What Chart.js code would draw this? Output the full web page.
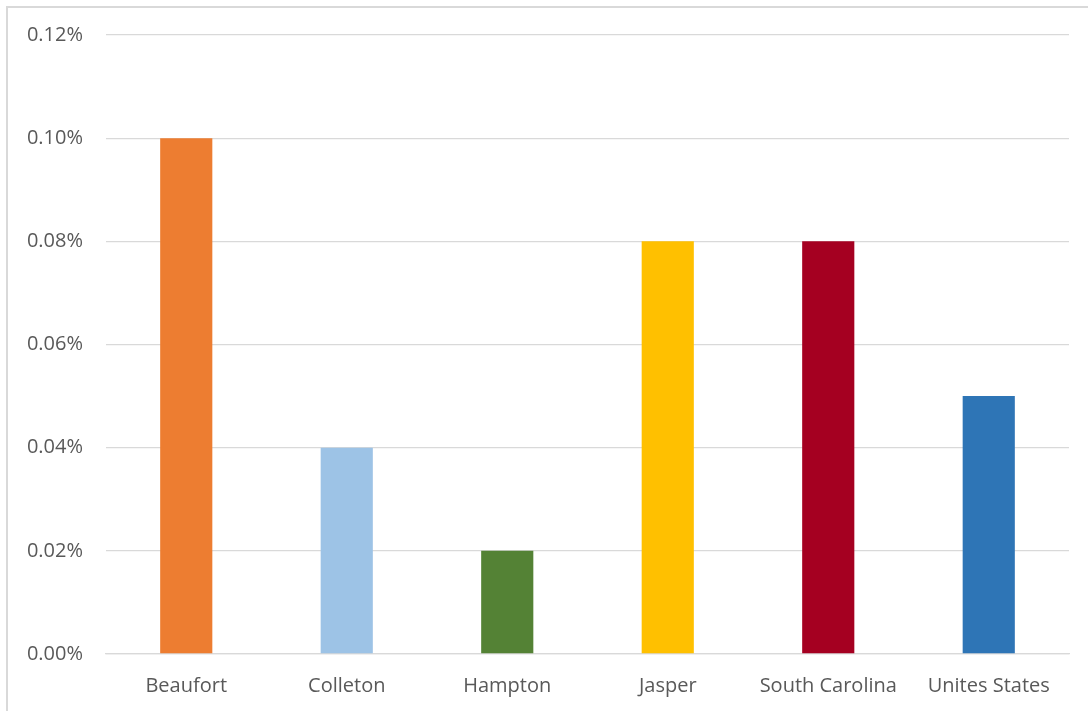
<!DOCTYPE html>
<html>
<head>
<meta charset="utf-8">
<script src="https://cdn.jsdelivr.net/npm/chart.js@4"></script>
<style>
  html, body { margin: 0; padding: 0; background: #fff; }
  #wrap { position: relative; width: 1088px; height: 711px; overflow: hidden; }
  #frame { position: absolute; left: 6px; top: 6px; width: 1100px; height: 720px;
           border-left: 2px solid #d9d9d9; border-top: 2px solid #d9d9d9; box-sizing: border-box; }
  canvas { position: absolute; left: 0; top: 0; }
</style>
</head>
<body>
<div id="wrap">
  <div id="frame"></div>
  <canvas id="chart" width="1088" height="711"></canvas>
</div>
<script>
// datos del gráfico (valores en %)
const categories = ['Beaufort', 'Colleton', 'Hampton', 'Jasper', 'South Carolina', 'Unites States'];
const values = [0.10, 0.04, 0.02, 0.08, 0.08, 0.05];
const barColors = ['#ED7D31', '#9DC3E6', '#548235', '#FFC000', '#A50021', '#2E75B6'];
const yTicks = [0, 0.02, 0.04, 0.06, 0.08, 0.10, 0.12];

const textColor = '#595959';
const gridColor = '#d9d9d9';

new Chart(document.getElementById('chart').getContext('2d'), {
    type: 'bar',
    data: {
        labels: categories,
        datasets: [{
            data: values,
            backgroundColor: barColors,
            borderWidth: 0,
            barPercentage: 1,
            categoryPercentage: 0.325
        }]
    },
    options: {
        responsive: false,
        animation: false,
        layout: { padding: { top: 35, right: 19, left: 0, bottom: 0 } },
        plugins: {
            legend: { display: false },
            tooltip: { enabled: false }
        },
        scales: {
            y: {
                min: 0,
                max: 0.12,
                afterBuildTicks: function(scale) {
                    scale.ticks = yTicks.map(v => ({ value: v }));
                },
                afterFit: function(scale) { scale.width = 106; },
                border: { display: false },
                grid: { color: gridColor, lineWidth: 1.3, drawTicks: false },
                ticks: {
                    color: textColor,
                    font: { family: 'Open Sans', size: 20 },
                    padding: 23,
                    callback: function(value) { return value.toFixed(2) + '%'; }
                }
            },
            x: {
                afterFit: function(scale) { scale.height = 57; },
                border: { color: gridColor, width: 1.3 },
                grid: { display: false, drawTicks: false },
                ticks: {
                    color: textColor,
                    font: { family: 'Open Sans', size: 20 },
                    padding: 20,
                    maxRotation: 0
                }
            }
        }
    }
});
</script>
</body>
</html>
